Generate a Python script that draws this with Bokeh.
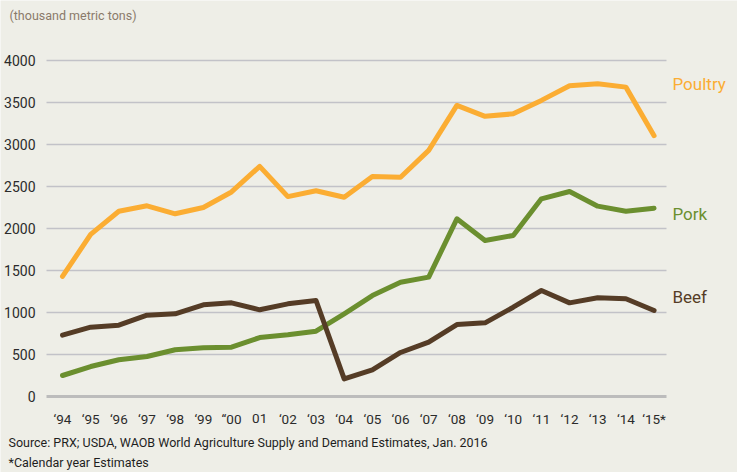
from bokeh.plotting import figure
from bokeh.models import FixedTicker, Range1d, Grid
from bokeh.core.properties import value
from bokeh.embed import file_html
from bokeh.resources import INLINE

# ---- data ----
years = ["\u201894", "\u201895", "\u201896", "\u201897", "\u201898", "\u201899", "\u201c00", "01",
         "\u201802", "\u201803", "\u201804", "\u201805", "\u201806", "\u201807", "\u201808", "\u201809",
         "\u201810", "\u201811", "\u201812", "\u201813", "\u201814", "\u201815*"]
poultry = [1430, 1930, 2205, 2270, 2175, 2250, 2435, 2740, 2380, 2450, 2372,
           2618, 2610, 2930, 3465, 3335, 3365, 3525, 3700, 3722, 3683, 3105]
pork = [250, 357, 437, 476, 556, 579, 587, 702, 734, 778, 985,
        1202, 1360, 1421, 2115, 1857, 1917, 2353, 2440, 2266, 2206, 2242]
beef = [730, 825, 849, 968, 984, 1091, 1115, 1032, 1103, 1143, 210,
        317, 524, 647, 857, 877, 1063, 1262, 1115, 1175, 1163, 1024]
y_ticks = [0, 500, 1000, 1500, 2000, 2500, 3000, 3500, 4000]
series = [("Poultry", poultry, "#fbad33"), ("Pork", pork, "#6b8f2f"), ("Beef", beef, "#553c26")]

FONT = "Roboto"
BG = "#eeeee7"
TXT = "#2b2b2b"
W, H = 737, 472


def px2x(px):
    return (px - 62) / 28.17


def py2y(py):
    return (396 - py) / 0.084


xs = list(range(len(years)))

p = figure(width=W, height=H, output_backend="svg", toolbar_location=None,
           x_range=Range1d(px2x(0), px2x(W)), y_range=Range1d(py2y(H), py2y(0)),
           min_border=0, background_fill_color=BG, border_fill_color=BG)
p.outline_line_color = None
p.xaxis.visible = False
p.yaxis.visible = False
p.xgrid.visible = False
p.ygrid.visible = False

p.add_layout(Grid(dimension=1, ticker=FixedTicker(ticks=y_ticks[1:]),
                  cross_bounds=(px2x(46), px2x(666)),
                  grid_line_color="#c2c2c8", grid_line_width=1.5))
p.add_layout(Grid(dimension=1, ticker=FixedTicker(ticks=y_ticks[:1]),
                  cross_bounds=(px2x(46), px2x(666)),
                  grid_line_color="#bcbcbc", grid_line_width=3))

for name, vals, col in series:
    p.line(xs, vals, line_color=col, line_width=5, line_cap="round", line_join="round")

# y tick labels
p.text(x=[px2x(35)] * len(y_ticks), y=y_ticks, text=[str(v) for v in y_ticks],
       text_font=value(FONT), text_font_size="14px", text_color=TXT,
       text_align="right", text_baseline="middle")
# x tick labels
p.text(x=xs, y=[py2y(418)] * len(xs), text=years,
       text_font=value(FONT), text_font_size="13.5px", text_color=TXT,
       text_align="center", text_baseline="middle")

# series labels
label_py = [83, 213, 296]
p.text(x=[px2x(672)] * 3, y=[py2y(v) for v in label_py], text=[s[0] for s in series],
       text_color=[s[2] for s in series], text_font=value(FONT), text_font_size="17px",
       text_align="left", text_baseline="middle")

p.text(x=[px2x(9)], y=[py2y(15)], text=["(thousand metric tons)"], text_color="#8a7a6a",
       text_font=value(FONT), text_font_size="12.5px", text_baseline="middle")
p.text(x=[px2x(8)], y=[py2y(442)],
       text=["Source: PRX; USDA, WAOB World Agriculture Supply and Demand Estimates, Jan. 2016"],
       text_color="#1e1e1e", text_font=value(FONT), text_font_size="12.5px", text_baseline="middle")
p.text(x=[px2x(8)], y=[py2y(462)], text=["*Calendar year Estimates"],
       text_color="#1e1e1e", text_font=value(FONT), text_font_size="12.5px",
       text_baseline="middle")

open("out.html", "w").write(file_html(p, INLINE))
